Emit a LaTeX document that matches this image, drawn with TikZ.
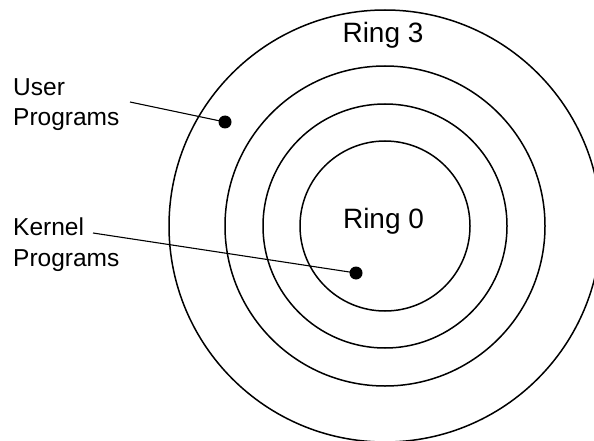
\documentclass[tikz,border=0pt]{standalone}
\usepackage{fontspec}
\setmainfont{Liberation Sans}
\usetikzlibrary{positioning}

\begin{document}
\begin{tikzpicture}[x=1pt, y=-1pt,
  ring/.style={line width=1.5pt, black},
  leader/.style={line width=1.1pt, black},
  dot/.style={circle, fill=black, inner sep=0pt, minimum size=13pt},
  lbl/.style={font=\fontsize{24.5}{30.5}\selectfont, align=left, inner sep=0pt, anchor=north west},
  ringlbl/.style={font=\fontsize{28}{32}\selectfont, inner sep=0pt, anchor=base}]
\useasboundingbox (0,0) rectangle (594,441);

% Protection rings
\coordinate (ctr) at (385,226);
\foreach \r in {85,122,160,216}
  \draw[ring] (ctr) circle[radius=\r pt];

% Ring labels
\node[ringlbl] (ring3) at (383,43) {Ring 3};
\node[ringlbl] (ring0) at (383.5,228) {Ring 0};

% Programs
\node[lbl] (user) at (13,78) {User\\Programs};
\node[lbl] (kernel) at (13,218) {Kernel\\Programs};

\node[dot] (udot) at (225,122) {};
\node[dot] (kdot) at (356,273) {};

% Leaders
\coordinate (ustart) at (130,102);
\coordinate (kstart) at (93,233);
\draw[leader] (ustart) -- (udot.center);
\draw[leader] (kstart) -- (kdot.center);
\end{tikzpicture}
\end{document}
